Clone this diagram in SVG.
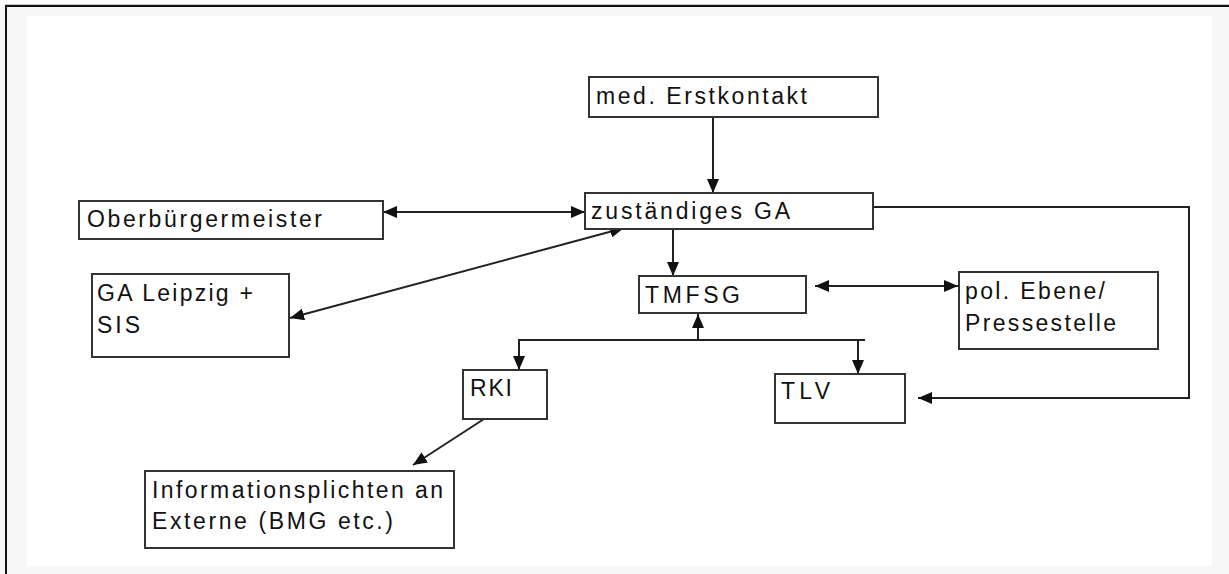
<svg xmlns="http://www.w3.org/2000/svg" width="1229" height="574" viewBox="0 0 1229 574">
<style>
.box{fill:#fff;stroke:#333;stroke-width:2}
.t{font-family:"Liberation Sans",Arial,sans-serif;font-size:23px;fill:#111}
.c{fill:none;stroke:#222;stroke-width:2}
</style>
<defs>
<marker id="ah" viewBox="0 0 14 12" refX="14" refY="6" markerWidth="14" markerHeight="12" markerUnits="userSpaceOnUse" orient="auto-start-reverse">
<path d="M0,0 L14,6 L0,12 z" fill="#111"/>
</marker>
</defs>
<rect x="0" y="0" width="1229" height="574" fill="#f7f7f7"/>
<rect x="0" y="0" width="1229" height="4" fill="#fff"/>
<rect x="5" y="4" width="1224" height="1" fill="#ccc"/>
<rect x="27" y="16" width="1185" height="550" fill="#fff"/>
<rect x="5" y="5" width="1224" height="2" fill="#111"/>
<rect x="5" y="5" width="2" height="569" fill="#111"/>

<g id="connectors">
<path class="c" d="M713,117 V193" marker-end="url(#ah)"/>
<path class="c" d="M383,212 H585" marker-start="url(#ah)" marker-end="url(#ah)"/>
<path class="c" d="M290,318 L624,228" marker-start="url(#ah)" marker-end="url(#ah)"/>
<path class="c" d="M673,229 V276" marker-end="url(#ah)"/>
<path class="c" d="M815,286 H958" marker-start="url(#ah)" marker-end="url(#ah)"/>
<path class="c" d="M518,340 H865"/>
<path class="c" d="M698,340 V314" marker-end="url(#ah)"/>
<path class="c" d="M519,340 V370" marker-end="url(#ah)"/>
<path class="c" d="M858,340 V374" marker-end="url(#ah)"/>
<path class="c" d="M873,207 H1189 V398 H918" marker-end="url(#ah)"/>
<path class="c" d="M484,419 L413,465" marker-end="url(#ah)"/>
</g>

<g id="erstkontakt">
<rect class="box" x="589" y="77" width="289" height="40"/>
<text class="t" x="596" y="104" textLength="211" lengthAdjust="spacing">med. Erstkontakt</text>
</g>
<g id="ga">
<rect class="box" x="585" y="193" width="288" height="36"/>
<text class="t" x="591" y="219" textLength="199" lengthAdjust="spacing">zuständiges GA</text>
</g>
<g id="obm">
<rect class="box" x="79" y="201" width="304" height="38"/>
<text class="t" x="87" y="227" textLength="235" lengthAdjust="spacing">Oberbürgermeister</text>
</g>
<g id="leipzig">
<rect class="box" x="92" y="274" width="197" height="83"/>
<text class="t" x="97" y="301" textLength="156" lengthAdjust="spacing">GA Leipzig +</text>
<text class="t" x="97" y="333" textLength="43" lengthAdjust="spacing">SIS</text>
</g>
<g id="tmfsg">
<rect class="box" x="639" y="276" width="167" height="37"/>
<text class="t" x="645" y="303" textLength="95" lengthAdjust="spacing">TMFSG</text>
</g>
<g id="pol">
<rect class="box" x="959" y="272" width="199" height="77"/>
<text class="t" x="965" y="299" textLength="140" lengthAdjust="spacing">pol. Ebene/</text>
<text class="t" x="965" y="331" textLength="151" lengthAdjust="spacing">Pressestelle</text>
</g>
<g id="rki">
<rect class="box" x="463" y="370" width="84" height="49"/>
<text class="t" x="470" y="396" textLength="42" lengthAdjust="spacing">RKI</text>
</g>
<g id="tlv">
<rect class="box" x="775" y="374" width="130" height="49"/>
<text class="t" x="781" y="399" textLength="49" lengthAdjust="spacing">TLV</text>
</g>
<g id="info">
<rect class="box" x="145" y="471" width="309" height="77"/>
<text class="t" x="152" y="498" textLength="291" lengthAdjust="spacing">Informationsplichten an</text>
<text class="t" x="152" y="529" textLength="241" lengthAdjust="spacing">Externe (BMG etc.)</text>
</g>
</svg>
